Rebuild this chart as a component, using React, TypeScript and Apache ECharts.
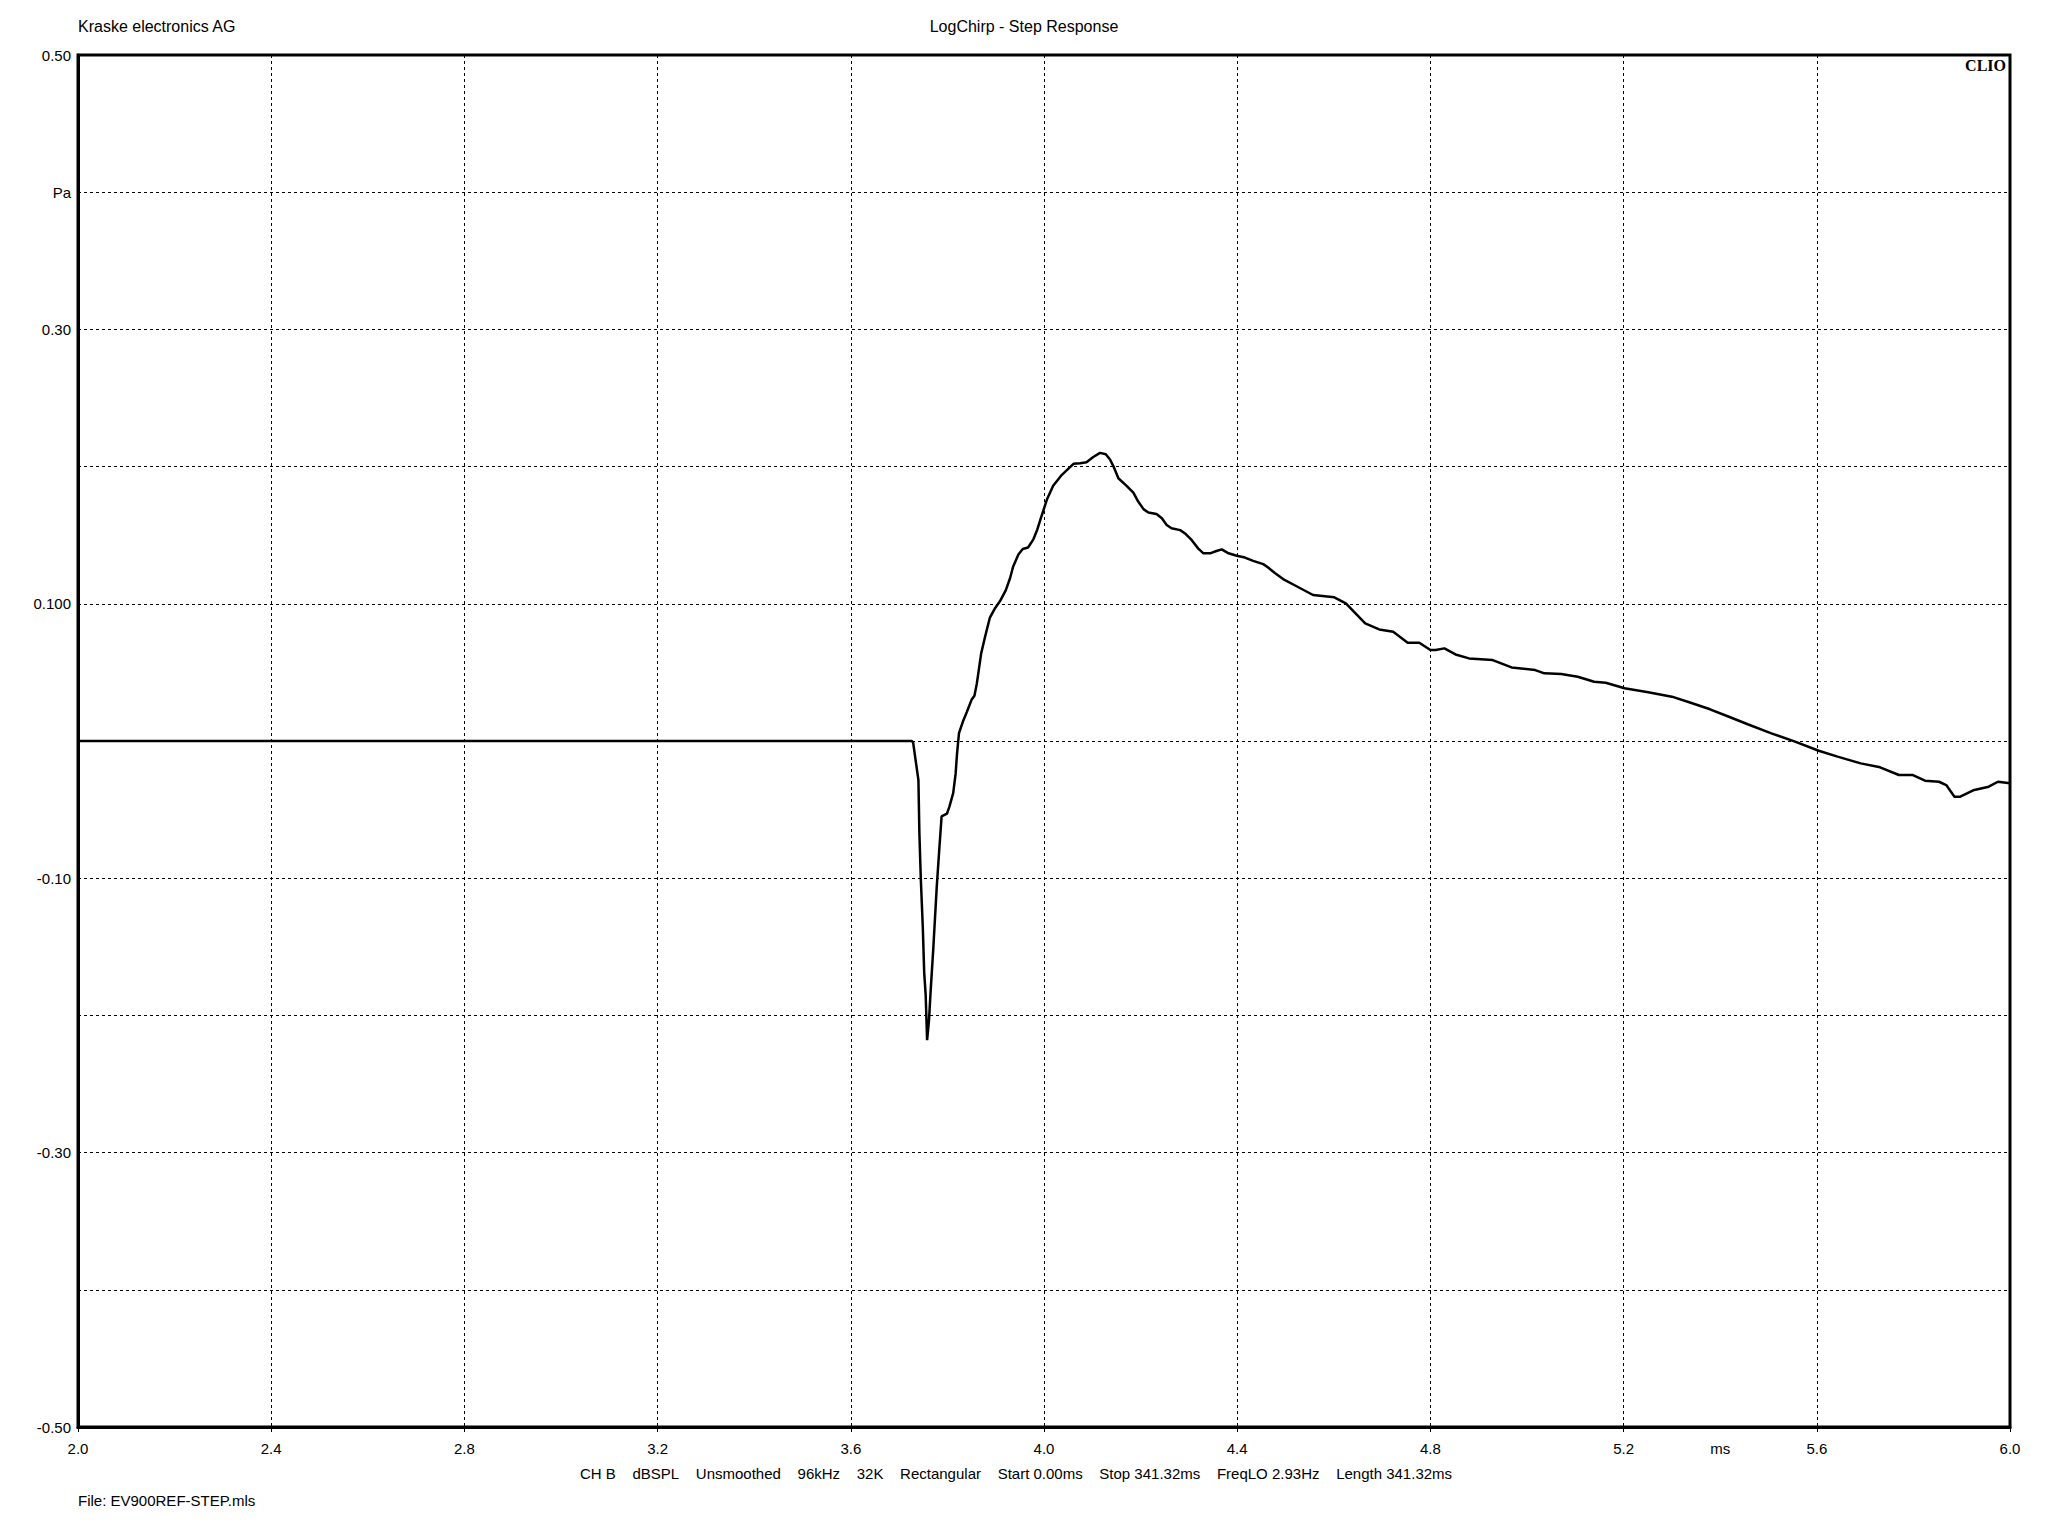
import React, { useEffect, useRef } from "react";
import * as echarts from "echarts";

const timeMs = [
  2.0, 3.726, 3.729, 3.74, 3.742, 3.745, 3.749, 3.752, 3.755, 3.758, 3.762, 3.765, 3.771,
  3.778, 3.783, 3.788, 3.799, 3.804, 3.812, 3.817, 3.82, 3.824, 3.833, 3.84, 3.85, 3.856,
  3.861, 3.87, 3.878, 3.888, 3.899, 3.909, 3.921, 3.93, 3.936, 3.947, 3.956, 3.967, 3.978,
  3.986, 3.995, 4.006, 4.019, 4.037, 4.061, 4.075, 4.088, 4.102, 4.116, 4.128, 4.137,
  4.144, 4.154, 4.171, 4.185, 4.195, 4.206, 4.216, 4.233, 4.244, 4.254, 4.264, 4.282,
  4.292, 4.306, 4.319, 4.33, 4.344, 4.357, 4.368, 4.382, 4.399, 4.416, 4.433, 4.454,
  4.464, 4.478, 4.495, 4.518, 4.557, 4.601, 4.625, 4.645, 4.665, 4.694, 4.723, 4.753,
  4.777, 4.8, 4.811, 4.829, 4.852, 4.88, 4.929, 4.968, 5.017, 5.036, 5.071, 5.105, 5.139,
  5.163, 5.202, 5.251, 5.3, 5.339, 5.379, 5.418, 5.457, 5.506, 5.555, 5.604, 5.643,
  5.691, 5.731, 5.77, 5.799, 5.824, 5.853, 5.868, 5.885, 5.897, 5.926, 5.956, 5.975, 6.0,
];

const pressurePa = [
  0, 0, -0.001, -0.0285, -0.067, -0.101, -0.135, -0.169, -0.185, -0.218, -0.203, -0.184,
  -0.15, -0.106, -0.08, -0.055, -0.053, -0.048, -0.038, -0.024, -0.009, 0.0057, 0.015,
  0.021, 0.03, 0.033, 0.042, 0.064, 0.076, 0.09, 0.097, 0.102, 0.11, 0.119, 0.127, 0.136,
  0.14, 0.141, 0.147, 0.154, 0.164, 0.176, 0.186, 0.194, 0.202, 0.2025, 0.2032, 0.207,
  0.21, 0.209, 0.205, 0.2, 0.1915, 0.186, 0.181, 0.1745, 0.169, 0.1665, 0.1655, 0.1623,
  0.1574, 0.155, 0.1537, 0.1513, 0.1464, 0.1404, 0.1368, 0.1368, 0.1385, 0.1397, 0.1368,
  0.135, 0.1337, 0.1313, 0.1289, 0.1265, 0.1224, 0.118, 0.1137, 0.1064, 0.1047, 0.1003,
  0.093, 0.0857, 0.0813, 0.0796, 0.0716, 0.0716, 0.0663, 0.0663, 0.0675, 0.0631, 0.0602,
  0.059, 0.0536, 0.0517, 0.0493, 0.0488, 0.0468, 0.0432, 0.0425, 0.0384, 0.0355, 0.0323,
  0.0279, 0.0231, 0.0177, 0.0122, 0.0056, -0.0005, -0.0071, -0.0114, -0.0163, -0.0192,
  -0.0248, -0.0248, -0.0289, -0.0297, -0.0321, -0.0406, -0.0406, -0.0357, -0.0333,
  -0.0297, -0.0308,
];

const yTickLabels: Record<number, string> = {
  5: "0.50",
  4: "Pa",
  3: "0.30",
  1: "0.100",
  [-1]: "-0.10",
  [-3]: "-0.30",
  [-5]: "-0.50",
};

const xUnitLabel = "ms";
const xUnitAt = 5.4;

const headerLeft = "Kraske electronics AG";
const chartTitle = "LogChirp - Step Response";
const brand = "CLIO";
const footerItems = [
  "CH B",
  "dBSPL",
  "Unsmoothed",
  "96kHz",
  "32K",
  "Rectangular",
  "Start 0.00ms",
  "Stop 341.32ms",
  "FreqLO 2.93Hz",
  "Length 341.32ms",
];
const fileLabel = "File: EV900REF-STEP.mls";

const FONT = "Arial, 'Liberation Sans', sans-serif";

export default function App() {
  const ref = useRef<HTMLDivElement>(null);

  useEffect(() => {
    if (!ref.current) return;
    const chart = echarts.init(ref.current, undefined, { renderer: "svg" });
    const data = timeMs.map((t, i) => [t, pressurePa[i]]);
    const sep = "\u00A0\u00A0\u00A0\u00A0";

    chart.setOption({
      animation: false,
      backgroundColor: "#fff",
      grid: {
        left: 78,
        right: 38,
        top: 55,
        bottom: 109,
        show: true,
        borderColor: "#000",
        borderWidth: 3,
        backgroundColor: "transparent",
      },
      xAxis: [
        {
          type: "value",
          min: 2.0,
          max: 6.0,
          interval: 0.4,
          axisLine: { show: true, onZero: false, lineStyle: { color: "#000", width: 3 } },
          axisTick: { show: true, length: 5, lineStyle: { color: "#000", width: 1 } },
          axisLabel: {
            color: "#000",
            fontFamily: FONT,
            fontSize: 15,
            margin: 14,
            showMinLabel: true,
            showMaxLabel: true,
            formatter: (v: number) => v.toFixed(1),
          },
          splitLine: {
            show: true,
            lineStyle: { color: "#000", width: 1, type: [3, 3] },
          },
        },
        {
          type: "value",
          min: 2.0,
          max: 6.0,
          interval: 0.2,
          position: "bottom",
          axisLine: { show: false, onZero: false },
          axisTick: { show: false },
          splitLine: { show: false },
          axisLabel: {
            color: "#000",
            fontFamily: FONT,
            fontSize: 15,
            margin: 14,
            formatter: (v: number) => (Math.abs(v - xUnitAt) < 1e-6 ? xUnitLabel : ""),
          },
        },
      ],
      yAxis: {
        type: "value",
        min: -0.5,
        max: 0.5,
        interval: 0.1,
        axisLine: { show: true, onZero: false, lineStyle: { color: "#000", width: 3 } },
        axisTick: { show: false },
        axisLabel: {
          color: "#000",
          fontFamily: FONT,
          fontSize: 15,
          margin: 7,
          showMinLabel: true,
          showMaxLabel: true,
          formatter: (v: number) => yTickLabels[Math.round(v * 10)] ?? "",
        },
        splitLine: {
          show: true,
          lineStyle: { color: "#000", width: 1, type: [3, 3] },
        },
      },
      graphic: [
        {
          type: "text",
          left: 78,
          top: 18,
          style: { text: headerLeft, fill: "#000", font: `16px ${FONT}` },
        },
        {
          type: "text",
          x: 1024,
          y: 26,
          style: {
            text: chartTitle,
            fill: "#000",
            font: `16px ${FONT}`,
            align: "center",
            verticalAlign: "middle",
          },
        },
        {
          type: "text",
          x: 2006,
          y: 57,
          style: {
            text: brand,
            fill: "#000",
            font: `bold 16px 'Liberation Serif', 'Times New Roman', serif`,
            align: "right",
            verticalAlign: "top",
          },
          z: 10,
        },
        {
          type: "text",
          x: 1016,
          y: 1473,
          style: {
            text: footerItems.join(sep),
            fill: "#000",
            font: `15px ${FONT}`,
            align: "center",
            verticalAlign: "middle",
          },
        },
        {
          type: "text",
          x: 78,
          y: 1500,
          style: {
            text: fileLabel,
            fill: "#000",
            font: `15px ${FONT}`,
            align: "left",
            verticalAlign: "middle",
          },
        },
      ],
      series: [
        {
          type: "line",
          xAxisIndex: 0,
          data,
          showSymbol: false,
          symbol: "none",
          smooth: false,
          lineStyle: { color: "#000", width: 2.5 },
          z: 5,
        },
      ],
    });

    return () => chart.dispose();
  }, []);

  return (
    <div
      ref={ref}
      style={{ position: "absolute", left: 0, top: 0, width: 2048, height: 1536, background: "#fff" }}
    />
  );
}
